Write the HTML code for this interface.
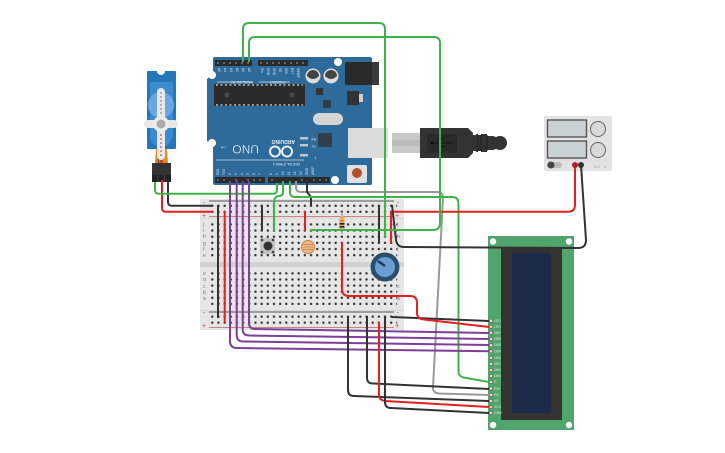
<!DOCTYPE html>
<html><head><meta charset="utf-8"><style>
html,body{margin:0;padding:0;background:#fff;width:725px;height:453px;overflow:hidden}
svg{display:block}
text{font-family:"Liberation Sans",sans-serif}
.w{fill:none;stroke-width:2;stroke-linejoin:round}
.g{stroke:#3fb24a}.k{stroke:#333}.r{stroke:#e3201f}.p{stroke:#7d3f98}.y{stroke:#999}
</style></head><body>
<svg width="725" height="453" viewBox="0 0 725 453" xmlns="http://www.w3.org/2000/svg">
<defs>
<pattern id="h1" x="209.2" y="202.7" width="6.17" height="6.05" patternUnits="userSpaceOnUse">
<circle cx="3.08" cy="3.02" r="1.2" fill="#333"/></pattern>
<pattern id="h2" x="209.2" y="221.3" width="6.17" height="6.15" patternUnits="userSpaceOnUse">
<circle cx="3.08" cy="3.07" r="1.2" fill="#333"/></pattern>
<pattern id="h3" x="209.2" y="270.3" width="6.17" height="6.1" patternUnits="userSpaceOnUse">
<circle cx="3.08" cy="3.05" r="1.2" fill="#333"/></pattern>
<pattern id="h4" x="209.2" y="313.7" width="6.17" height="6" patternUnits="userSpaceOnUse">
<circle cx="3.08" cy="3" r="1.2" fill="#333"/></pattern>
</defs>

<!-- breadboard -->
<rect x="200" y="199" width="204" height="131" fill="#e6e6e6"/>
<rect x="200" y="262" width="204" height="5" fill="#d2d2d2"/>
<rect x="200" y="218" width="204" height="1" fill="#d8d8d8"/>
<rect x="200" y="310" width="204" height="1" fill="#d8d8d8"/>
<path d="M209 201H394M209 312H394" stroke="#555" stroke-width="1"/>
<path d="M209 216.500H394M209 327.500H394" stroke="#c98080" stroke-width="1"/>
<rect x="209.200" y="202.700" width="188" height="12.100" fill="url(#h1)"/>
<rect x="209.200" y="221.300" width="188" height="36.900" fill="url(#h2)"/>
<rect x="209.200" y="270.300" width="188" height="36.600" fill="url(#h3)"/>
<rect x="209.200" y="313.700" width="188" height="12" fill="url(#h4)"/>
<g font-size="5" fill="#777">
<text x="203" y="226">j</text><text x="203" y="232">i</text><text x="203" y="238">h</text><text x="203" y="245">g</text><text x="203" y="251">f</text><text x="203" y="257">e</text>
<text x="203" y="275">e</text><text x="203" y="281">d</text><text x="203" y="288">c</text><text x="203" y="294">b</text><text x="203" y="300">a</text>
<text x="397" y="226">j</text><text x="397" y="238">h</text><text x="397" y="251">f</text><text x="397" y="288">c</text><text x="397" y="300">a</text>
</g>
<g font-size="7" fill="#c44">
<text x="202" y="218">+</text><text x="395" y="218">+</text><text x="202" y="328">+</text><text x="395" y="328">+</text>
</g>
<g font-size="7" fill="#666"><text x="203" y="205">-</text><text x="397" y="205">-</text><text x="203" y="315">-</text><text x="397" y="315">-</text></g>

<!-- breadboard components -->
<rect x="260" y="238" width="15" height="16" rx="1" fill="#c4c4c4"/>
<g fill="#444"><circle cx="262" cy="240" r="1.300"/><circle cx="273" cy="240" r="1.300"/><circle cx="262" cy="252" r="1.300"/><circle cx="273" cy="252" r="1.300"/></g>
<circle cx="268" cy="246" r="4.500" fill="#333"/>
<circle cx="308" cy="247" r="6.500" fill="#e9bd8e" stroke="#c8803f" stroke-width="1"/>
<path d="M303 244.500h10M302.500 247h11M303 249.500h10" stroke="#c8803f" stroke-width=".7" fill="none"/>
<path d="M342 212V234" stroke="#999" stroke-width="1.200"/>
<rect x="339.500" y="216" width="5" height="15" rx="2" fill="#e0b070"/>
<rect x="339.500" y="220" width="5" height="1.500" fill="#e8820c"/>
<rect x="339.500" y="223" width="5" height="1.700" fill="#222"/>
<rect x="339.500" y="226" width="5" height="1.600" fill="#222"/>
<circle cx="385" cy="267" r="14.500" fill="#274f6c"/>
<circle cx="385" cy="267" r="10" fill="#6a9fd4"/>
<path d="M378 261l7 5" stroke="#1d3a50" stroke-width="2.500"/>

<!-- servo -->
<rect x="147" y="71" width="29" height="78" rx="1" fill="#2677b7"/>
<rect x="150" y="82" width="23" height="56" rx="2" fill="#3a8bd0"/>
<circle cx="161" cy="71" r="4" fill="#fff"/>
<circle cx="161" cy="105" r="13" fill="#6aa8e4"/>
<circle cx="161" cy="136" r="11" fill="#3a8bd0"/>
<path d="M156 149h11l1 14h-13z" fill="#e08a2c"/>
<path d="M160 149h3v14h-3z" fill="#d6402c"/>
<path d="M157.500 149h2v14h-2z" fill="#8a5a2c"/>
<rect x="157" y="88" width="8" height="72" rx="4" fill="#e8e8e8"/>
<rect x="144" y="120" width="34" height="8" rx="4" fill="#e8e8e8"/>
<circle cx="161" cy="124" r="8" fill="#ececec"/>
<circle cx="161" cy="124" r="4.500" fill="#aaa"/>
<g fill="#666"><circle cx="161" cy="93" r=".7"/><circle cx="161" cy="97" r=".7"/><circle cx="161" cy="101" r=".7"/><circle cx="161" cy="105" r=".7"/><circle cx="161" cy="109" r=".7"/><circle cx="161" cy="113" r=".7"/></g>
<g fill="#a33"><circle cx="161" cy="135" r=".8"/><circle cx="161" cy="139" r=".8"/><circle cx="161" cy="143" r=".8"/><circle cx="161" cy="147" r=".8"/><circle cx="161" cy="151" r=".8"/><circle cx="161" cy="155" r=".8"/></g>
<rect x="152" y="163" width="19" height="13" fill="#333"/>
<rect x="152" y="175" width="19" height="7" fill="#222"/>
<path d="M158 175v7M164.500 175v7" stroke="#555" stroke-width=".7"/>

<!-- arduino -->
<path d="M213 59q0-2 2-2H370q2 0 2 2V183q0 2-2 2H215q-2 0-2-2V147l-6-6V79l6-6z" fill="#2e6a9a"/>
<rect x="215" y="60" width="37" height="6" fill="#2b2b2b"/>
<rect x="258" y="60" width="50" height="6" fill="#2b2b2b"/>
<rect x="215" y="177" width="50" height="6" fill="#2b2b2b"/>
<rect x="268" y="177" width="62" height="6" fill="#2b2b2b"/>
<g fill="#666">
<rect x="217" y="62" width="2" height="2"/><rect x="223" y="62" width="2" height="2"/><rect x="229" y="62" width="2" height="2"/><rect x="235" y="62" width="2" height="2"/><rect x="241" y="62" width="2" height="2"/><rect x="247" y="62" width="2" height="2"/>
<rect x="260" y="62" width="2" height="2"/><rect x="266" y="62" width="2" height="2"/><rect x="272" y="62" width="2" height="2"/><rect x="278" y="62" width="2" height="2"/><rect x="284" y="62" width="2" height="2"/><rect x="290" y="62" width="2" height="2"/><rect x="296" y="62" width="2" height="2"/><rect x="302" y="62" width="2" height="2"/>
<rect x="217" y="179" width="2" height="2"/><rect x="223" y="179" width="2" height="2"/><rect x="235" y="179" width="2" height="2"/><rect x="247" y="179" width="2" height="2"/><rect x="253" y="179" width="2" height="2"/><rect x="259" y="179" width="2" height="2"/>
<rect x="271" y="179" width="2" height="2"/><rect x="301" y="179" width="2" height="2"/><rect x="313" y="179" width="2" height="2"/><rect x="319" y="179" width="2" height="2"/><rect x="325" y="179" width="2" height="2"/>
</g>
<path d="M217 82H253M259 82H290M216 160H304" stroke="#cfdde8" stroke-width=".8"/>
<g fill="#e4edf4" font-size="3.200">
<text transform="translate(218,68) rotate(90)">A5</text><text transform="translate(224,68) rotate(90)">A4</text><text transform="translate(230,68) rotate(90)">A3</text><text transform="translate(236,68) rotate(90)">A2</text><text transform="translate(242,68) rotate(90)">A1</text><text transform="translate(248,68) rotate(90)">A0</text>
<text transform="translate(261,68) rotate(90)">Vin</text><text transform="translate(267,68) rotate(90)">GND</text><text transform="translate(273,68) rotate(90)">GND</text><text transform="translate(279,68) rotate(90)">5V</text><text transform="translate(285,68) rotate(90)">3V3</text><text transform="translate(291,68) rotate(90)">RST</text><text transform="translate(297,68) rotate(90)">IOREF</text>
<text transform="translate(219,175) rotate(-90)">RX0</text><text transform="translate(225,175) rotate(-90)">TX1</text><text transform="translate(231,175) rotate(-90)">2</text><text transform="translate(237,175) rotate(-90)">3</text><text transform="translate(243,175) rotate(-90)">4</text><text transform="translate(249,175) rotate(-90)">5</text><text transform="translate(255,175) rotate(-90)">6</text><text transform="translate(261,175) rotate(-90)">7</text>
<text transform="translate(272,175) rotate(-90)">8</text><text transform="translate(278,175) rotate(-90)">9</text><text transform="translate(284,175) rotate(-90)">10</text><text transform="translate(290,175) rotate(-90)">11</text><text transform="translate(296,175) rotate(-90)">12</text><text transform="translate(302,175) rotate(-90)">13</text><text transform="translate(308,175) rotate(-90)">GND</text><text transform="translate(314,175) rotate(-90)">AREF</text>
</g>
<g fill="#e4edf4" font-size="4">
<text transform="translate(253,81) rotate(180)">ANALOG IN</text>
<text transform="translate(285,81) rotate(180)">POWER</text>
<text transform="translate(300,163) rotate(180)" font-size="3.500">DIGITAL (PWM~)</text>
<text transform="translate(226,146) rotate(180)" font-size="3.500" opacity=".7">ON</text>
<text transform="translate(316,138) rotate(180)" font-size="3.500">RX</text>
<text transform="translate(316,145) rotate(180)" font-size="3.500">TX</text>
<text transform="translate(316,157) rotate(180)" font-size="3.500">L</text>
</g>
<rect x="300" y="137" width="8" height="2.500" fill="#ddd" opacity=".8"/><rect x="300" y="144" width="8" height="2.500" fill="#ddd" opacity=".8"/><rect x="300" y="154" width="8" height="2.500" fill="#ddd" opacity=".8"/>
<text transform="translate(259,145) rotate(180)" font-size="12" fill="#e8f0f5" stroke="#2e6a9a" stroke-width=".2">UNO</text>
<text transform="translate(295,140) rotate(180)" font-size="5" font-weight="bold" fill="#e8f0f5">ARDUINO</text>
<circle cx="275" cy="151.500" r="5" fill="none" stroke="#e8f0f5" stroke-width="2"/>
<circle cx="287" cy="151.500" r="5" fill="none" stroke="#e8f0f5" stroke-width="2"/>
<rect x="214" y="84" width="91" height="22" fill="#2b2b2b"/>
<circle cx="227" cy="95" r="2.500" fill="#4a4a4a"/><circle cx="292" cy="95" r="2.500" fill="#4a4a4a"/>
<path d="M216 85H303M216 105H303" stroke="#ddd" stroke-width="1.200" stroke-dasharray="2 2.500"/>
<circle cx="313" cy="76" r="7.500" fill="#ddd"/><path d="M307 76a6 6 0 0 1 12 0q-6 6-12 0z" fill="#444"/>
<circle cx="331" cy="76" r="7.500" fill="#ddd"/><path d="M325 76a6 6 0 0 1 12 0q-6 6-12 0z" fill="#444"/>
<rect x="345" y="62" width="34" height="23" rx="2" fill="#2b2b2b"/>
<rect x="372" y="62" width="7" height="23" fill="#3a3a3a"/>
<rect x="316" y="88" width="7" height="7" fill="#333"/>
<rect x="323" y="100" width="8" height="8" rx="1" fill="#2f3f4c"/>
<rect x="347" y="91" width="12" height="14" fill="#333"/><rect x="359" y="94" width="4" height="8" fill="#ccc"/>
<rect x="313" y="113" width="30" height="12" rx="6" fill="#d5d5d5"/>
<rect x="318" y="133" width="14" height="14" rx="1" fill="#2f3f4c"/>
<circle cx="338" cy="62" r="4" fill="#fff"/><circle cx="212" cy="75" r="4" fill="#fff"/><circle cx="212" cy="143" r="4" fill="#fff"/><circle cx="335" cy="180" r="4" fill="#fff"/>
<rect x="347" y="165" width="20" height="18" rx="2" fill="#e0e0e0"/><circle cx="357" cy="173" r="5" fill="#b5502f"/>
<rect x="348" y="128" width="40" height="30" fill="#dcdcdc"/>

<!-- usb -->
<rect x="392" y="133" width="28" height="20" fill="#c8c8c8"/>
<rect x="392" y="140" width="28" height="6" fill="#bbb"/>
<path d="M420 128H468l5 5v20l-5 5H420z" fill="#333"/>
<rect x="427" y="134" width="30" height="19" fill="#2a2a2a"/>
<path d="M432 143H452M440 140l4-2M440 146l5 1" stroke="#111" stroke-width="1"/><circle cx="432" cy="143" r="1.500" fill="#111"/>
<path d="M473 135h3v-1h2v1h3v-1h6v2h5a7 7 0 0 1 0 14h-5v2h-6v-1h-3v1h-2v-1h-3z" fill="#333"/>
<path d="M478 135v16M481 135v16M487 135v16" stroke="#222" stroke-width="1"/>
<circle cx="500" cy="143" r="7" fill="#333"/>

<!-- power supply -->
<rect x="544" y="116" width="68" height="55" rx="2" fill="#e3e3e3"/>
<rect x="547.500" y="120" width="39" height="17" fill="#c8d2d4" stroke="#555" stroke-width="1.400"/>
<rect x="547.500" y="141" width="39" height="17" fill="#c8d2d4" stroke="#555" stroke-width="1.400"/>
<circle cx="598" cy="129" r="7.500" fill="#d8d8d8" stroke="#666" stroke-width="1"/>
<circle cx="598" cy="150" r="7.500" fill="#d8d8d8" stroke="#666" stroke-width="1"/>
<rect x="547" y="162" width="15" height="6" rx="3" fill="#bbb"/><circle cx="551" cy="165" r="3.500" fill="#444"/>
<path d="M544 160H612" stroke="#d4d4d4" stroke-width=".7"/>
<g fill="#999" font-size="4"><text x="594" y="168">0.0</text><text x="604" y="168">#</text></g>

<!-- LCD -->
<rect x="488" y="236" width="86" height="194" fill="#4fa56c"/>
<rect x="501" y="247" width="61" height="173" fill="#333"/>
<rect x="512" y="253" width="39" height="160" fill="#1c2b4a"/>
<circle cx="493" cy="241.500" r="3.200" fill="#fff"/><circle cx="569" cy="241.500" r="3.200" fill="#fff"/><circle cx="493" cy="425" r="3.200" fill="#fff"/><circle cx="569" cy="425" r="3.200" fill="#fff"/>
<g fill="#d8ecd8" font-size="3.500">
<text x="494" y="322">LED</text><text x="494" y="328">LED</text><text x="494" y="334">DB7</text><text x="494" y="340">DB6</text><text x="494" y="346">DB5</text><text x="494" y="352.500">DB4</text><text x="494" y="359">DB3</text><text x="494" y="365">DB2</text><text x="494" y="371">DB1</text><text x="494" y="377">DB0</text><text x="494" y="383">E</text><text x="494" y="390">RW</text><text x="494" y="396">RS</text><text x="494" y="402">V0</text><text x="494" y="408">VCC</text><text x="494" y="414">GND</text>
</g>

<!-- wires -->
<path class="w k" d="M168 180V202q0 3.700 3.700 3.700H213"/>
<path class="w r" d="M162 180V208q0 3.700 3.700 3.700H213"/>
<path class="w g" d="M155 182V190q0 3.700 3.700 3.700H273q4 0 4-4V183"/>
<path class="w k" d="M218 205V318M262 205V231M379 205V243"/>
<path class="w r" d="M224.700 211V323M305 211V231M391 211V243"/>
<path class="w g" d="M283 181V192q0 4-4 4t-5 5V231"/>
<path class="w y" d="M296 181V187q0 5 5 5H437q6 0 6 6L433 388q0 5 6 5.500L489 395"/>
<path class="w k" d="M307 181V192L311 197V206"/>
<path class="w g" d="M290 181V192q0 5 5 5H452q6.500 0 6.500 6.500V372q0 4 5 5.500L489 382"/>
<path class="w p" d="M249 181V323q0 6 6 6L490 333"/>
<path class="w p" d="M242.700 181V329q0 6.500 6.500 6.500L490 339"/>
<path class="w p" d="M236.700 181V335q0 6.500 6.500 6.500L490 345"/>
<path class="w p" d="M230 181V341q0 7 7 7L490 351.300"/>
<path class="w k" d="M348 316V390q0 6 6 6L489 401"/>
<path class="w k" d="M367 316V378q0 5.500 6 5.500L489 389"/>
<path class="w r" d="M379 322V395q0 5 6 6L489 407"/>
<path class="w k" d="M385 316V402q0 6 6 6L489 413"/>
<path class="w k" d="M392 317L489 321"/>
<path class="w r" d="M342 242V289q0 7 7 7H410q7 0 7 7V313q0 6 7 6.500L489 327"/>
<path class="w k" d="M392 205L396 240q1 7 8 7L578 248q8 0 8-8L581 165"/>
<path class="w r" d="M393 211.700H568q7 0 7-7V165"/>
<g fill="#e9dfb8" stroke="#555" stroke-width=".6">
<circle cx="491" cy="320.700" r="1.700"/><circle cx="491" cy="326.800" r="1.700"/><circle cx="491" cy="332.800" r="1.700"/><circle cx="491" cy="339" r="1.700"/><circle cx="491" cy="345.200" r="1.700"/><circle cx="491" cy="351.300" r="1.700"/><circle cx="491" cy="357.800" r="1.700"/><circle cx="491" cy="364" r="1.700"/><circle cx="491" cy="370" r="1.700"/><circle cx="491" cy="376" r="1.700"/><circle cx="491" cy="382" r="1.700"/><circle cx="491" cy="388.500" r="1.700"/><circle cx="491" cy="394.800" r="1.700"/><circle cx="491" cy="401" r="1.700"/><circle cx="491" cy="407" r="1.700"/><circle cx="491" cy="413" r="1.700"/>
</g>
<circle cx="575" cy="165" r="3" fill="#b32222"/><circle cx="581" cy="165" r="3" fill="#333"/>
<path class="w g" d="M243 62V29q0-6 6-6H379q6 0 6 6V238"/>
<path class="w g" d="M249 62V43q0-6 6-6H434q6 0 6 6V223q0 7-7 7H310"/>
</svg>
</body></html>
